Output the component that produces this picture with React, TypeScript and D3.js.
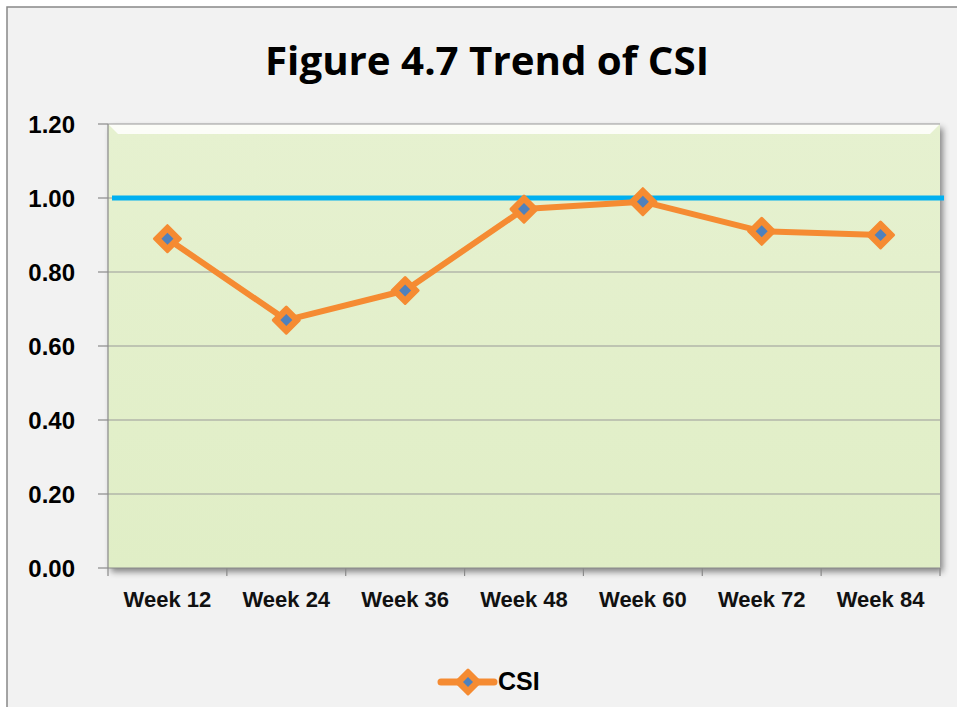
import React from "react";
import * as d3 from "d3";

const categories = ["Week 12", "Week 24", "Week 36", "Week 48", "Week 60", "Week 72", "Week 84"];
const csiValues = [0.89, 0.67, 0.75, 0.97, 0.99, 0.91, 0.9];
const targetValue = 1.0;
const yTicks = [0, 0.2, 0.4, 0.6, 0.8, 1.0, 1.2];
const title = "Figure 4.7 Trend of CSI";
const seriesName = "CSI";

const W = 957, H = 707;
const plot = { left: 108, right: 940, top: 124, bottom: 568 };

export default function App() {
  const x = d3.scaleBand<string>().domain(categories).range([plot.left, plot.right]).padding(0);
  const y = d3.scaleLinear().domain([0, 1.2]).range([plot.bottom, plot.top]);
  const cx = (c: string) => (x(c) as number) + x.bandwidth() / 2;
  const line = d3.line<number>().x((_, i) => cx(categories[i])).y((v) => y(v));
  const diamond = (px: number, py: number, r: number) =>
    `M${px},${py - r}L${px + r},${py}L${px},${py + r}L${px - r},${py}Z`;
  const orange = "#f58b32";
  const blueMarker = "#4f81bd";
  const axisFont = "Arial, 'Liberation Sans', sans-serif";

  return (
    <svg width={W} height={H} style={{ position: "absolute", left: 0, top: 0 }}>
      <defs>
        <linearGradient id="plotGrad" x1="0" y1="0" x2="0" y2="1">
          <stop offset="0" stopColor="#e6f1d0" />
          <stop offset="1" stopColor="#e0eec6" />
        </linearGradient>
        <filter id="shadow" x="-5%" y="-5%" width="115%" height="115%">
          <feDropShadow dx="3" dy="4" stdDeviation="3" floodColor="#000" floodOpacity="0.45" />
        </filter>
      </defs>
      <rect x={0} y={0} width={W} height={H} fill="#ffffff" />
      <rect x={7} y={7} width={W + 10} height={H + 10} fill="#f2f2f2" stroke="#888" strokeWidth={1.5} />
      <text x={487} y={75} textAnchor="middle" fontFamily="'Open Sans', sans-serif" fontWeight="bold"
        fontSize={40} textLength={444} lengthAdjust="spacingAndGlyphs" fill="#000">{title}</text>

      {/* plot area */}
      <rect x={plot.left} y={plot.top} width={plot.right - plot.left} height={plot.bottom - plot.top}
        fill="url(#plotGrad)" filter="url(#shadow)" />
      <polygon points={`${plot.left},${plot.top} ${plot.right},${plot.top} ${plot.right - 10},${plot.top + 10} ${plot.left + 10},${plot.top + 10}`}
        fill="#ffffff" opacity={0.85} />

      {/* gridlines and y ticks */}
      {yTicks.map((t) => (
        <g key={t}>
          {t > 0 && (
            <line x1={plot.left} x2={plot.right} y1={y(t)} y2={y(t)} stroke="#9a9a9a" strokeWidth={1.2} />
          )}
          <line x1={plot.left - 10} x2={plot.left} y1={y(t)} y2={y(t)} stroke="#8a8a8a" strokeWidth={1.2} />
          <text x={75} y={y(t) + 8.5} textAnchor="end" fontFamily={axisFont} fontWeight="bold" fontSize={24} fill="#000">
            {t.toFixed(2)}
          </text>
        </g>
      ))}
      {/* axes */}
      <line x1={plot.left} x2={plot.left} y1={plot.top} y2={plot.bottom + 8} stroke="#8a8a8a" strokeWidth={1.2} />
      <line x1={plot.left} x2={plot.right} y1={plot.bottom} y2={plot.bottom} stroke="#8a8a8a" strokeWidth={1.2} />
      {categories.map((c) => (
        <g key={c}>
          <line x1={(x(c) as number) + x.bandwidth()} x2={(x(c) as number) + x.bandwidth()}
            y1={plot.bottom} y2={plot.bottom + 8} stroke="#8a8a8a" strokeWidth={1.2} />
          <text x={cx(c)} y={607} textAnchor="middle" fontFamily={axisFont} fontWeight="bold" fontSize={22} fill="#111">
            {c}
          </text>
        </g>
      ))}

      {/* target line */}
      <line x1={112} x2={944} y1={y(targetValue)} y2={y(targetValue)} stroke="#00b0f0" strokeWidth={5} />

      {/* CSI series */}
      <path d={line(csiValues) as string} fill="none" stroke={orange} strokeWidth={6} strokeLinejoin="round" />
      {csiValues.map((v, i) => (
        <g key={i}>
          <path d={diamond(cx(categories[i]), y(v), 13)} fill={orange} stroke={orange} strokeWidth={3} strokeLinejoin="round" />
          <path d={diamond(cx(categories[i]), y(v), 6)} fill={blueMarker} />
        </g>
      ))}

      {/* legend */}
      <line x1={441} x2={494} y1={682} y2={682} stroke={orange} strokeWidth={7} strokeLinecap="round" />
      <path d={diamond(468, 682, 12)} fill={orange} stroke={orange} strokeWidth={3} strokeLinejoin="round" />
      <path d={diamond(468, 682, 5)} fill={blueMarker} />
      <text x={498} y={690} fontFamily={axisFont} fontWeight="bold" fontSize={25} fill="#000">{seriesName}</text>
    </svg>
  );
}
